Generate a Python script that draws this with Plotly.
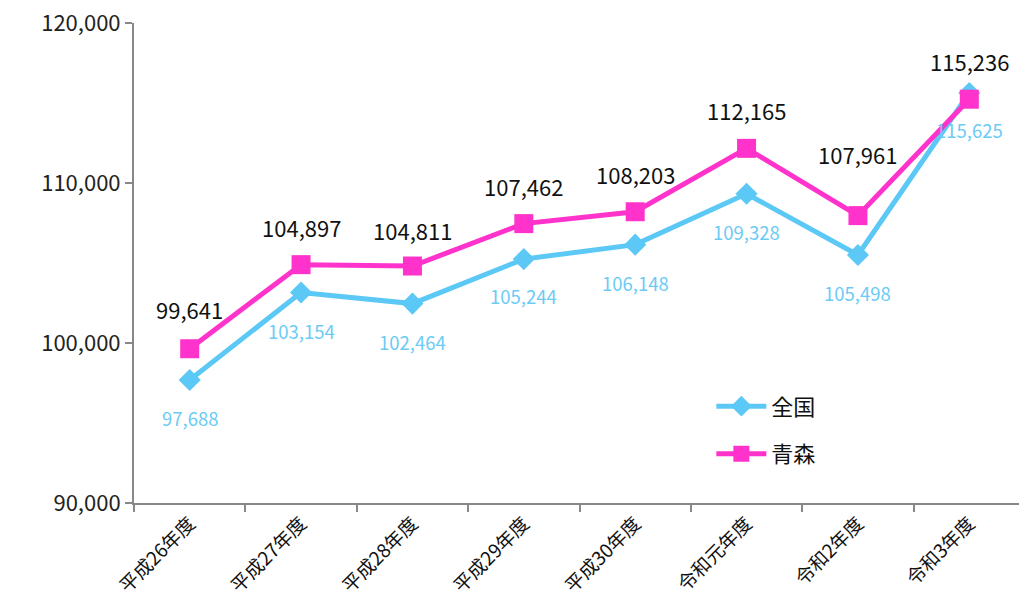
import plotly.graph_objects as go

categories = ["平成26年度", "平成27年度", "平成28年度", "平成29年度", "平成30年度", "令和元年度", "令和2年度", "令和3年度"]
zenkoku = [97688, 103154, 102464, 105244, 106148, 109328, 105498, 115625]
aomori = [99641, 104897, 104811, 107462, 108203, 112165, 107961, 115236]

# label offsets (pixels) for data labels
aomori_shift = [40, 38, 36, 38, 38, 38, 62, 38]
zenkoku_shift = [-38, -38, -38, -37, -38, -38, -38, -37]

BLUE = "#5BC8F5"
PINK = "#FF33CC"
FONT = "Noto Sans CJK JP, Open Sans, sans-serif"

fig = go.Figure()
fig.add_trace(go.Scatter(
    x=categories, y=zenkoku, name="全国", legendgroup="a",
    mode="lines+markers",
    line=dict(color=BLUE, width=5),
    marker=dict(symbol="diamond", size=17, color=BLUE),
))
fig.add_trace(go.Scatter(
    x=categories, y=aomori, name="青森", legendgroup="b",
    mode="lines+markers",
    line=dict(color=PINK, width=5),
    marker=dict(symbol="square", size=19, color=PINK),
))

annotations = []
for c, v, s in zip(categories, aomori, aomori_shift):
    annotations.append(dict(x=c, y=v, xref="x", yref="y", text=f"{v:,}", showarrow=False,
                            yshift=s, font=dict(family=FONT, size=22, color="#111111")))
for c, v, s in zip(categories, zenkoku, zenkoku_shift):
    annotations.append(dict(x=c, y=v, xref="x", yref="y", text=f"{v:,}", showarrow=False,
                            yshift=s, font=dict(family=FONT, size=18.5, color="#6CCBF5")))

# page body has an 8px margin, so the figure is sized/margined to compensate
fig.update_layout(
    width=1019, height=608,
    margin=dict(l=126, r=2, t=15, b=113),
    paper_bgcolor="white", plot_bgcolor="white",
    font=dict(family=FONT),
    showlegend=True,
    legend=dict(x=0.648, y=0.245, xanchor="left", yanchor="top",
                font=dict(family=FONT, size=22, color="#111111"),
                itemwidth=50,
                tracegroupgap=16, bgcolor="rgba(0,0,0,0)"),
    annotations=annotations,
)
fig.update_xaxes(
    type="category", showgrid=False, showline=True, linecolor="#888888", linewidth=2,
    ticks="outside", ticklen=7, tickcolor="#888888", tickwidth=1.5, tickson="boundaries",
    tickangle=-45, tickfont=dict(family=FONT, size=19, color="#111111"),
    range=[-0.5, 7.5], automargin=False, ticklabeloverflow="allow",
)
fig.update_yaxes(
    range=[90000, 120000], dtick=10000, tickformat=",", showgrid=False,
    showline=True, linecolor="#888888", linewidth=2,
    ticks="outside", ticklen=7, tickcolor="#888888", tickwidth=1.5,
    tickfont=dict(family=FONT, size=22, color="#222222"), zeroline=False,
    automargin=False, ticklabeloverflow="allow",
)

fig.write_html("out.html")
